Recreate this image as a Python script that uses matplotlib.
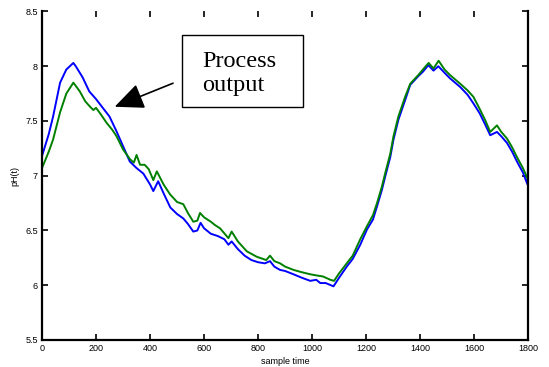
import matplotlib
matplotlib.use("Agg")
import matplotlib.pyplot as plt
from matplotlib.patches import Rectangle

# sample times and pH readings (blue curve)
t_blue = [0, 25, 41, 67, 90, 116, 125, 150, 175, 200, 225, 250, 275, 300, 325, 350,
          375, 400, 412, 430, 450, 475, 500, 523, 540, 560, 575, 587, 600, 625, 650,
          675, 690, 702, 725, 750, 775, 800, 825, 844, 860, 881, 900, 931, 960, 993,
          1015, 1030, 1050, 1079, 1100, 1128, 1150, 1178, 1203, 1225, 1240, 1258, 1270,
          1289, 1301, 1319, 1344, 1363, 1393, 1410, 1430, 1449, 1467, 1490, 1510, 1548,
          1575, 1597, 1620, 1640, 1659, 1684, 1700, 1721, 1740, 1758, 1780, 1797, 1800]
ph_blue = [7.18, 7.38, 7.54, 7.85, 7.97, 8.03, 8.00, 7.90, 7.77, 7.70, 7.62, 7.54, 7.41,
           7.27, 7.13, 7.07, 7.02, 6.92, 6.86, 6.95, 6.84, 6.71, 6.65, 6.61, 6.56, 6.49,
           6.50, 6.57, 6.52, 6.47, 6.45, 6.42, 6.37, 6.40, 6.33, 6.27, 6.23, 6.21, 6.20,
           6.22, 6.17, 6.14, 6.13, 6.10, 6.07, 6.04, 6.05, 6.02, 6.02, 5.99, 6.07, 6.17,
           6.24, 6.37, 6.51, 6.60, 6.72, 6.87, 6.99, 7.17, 7.33, 7.51, 7.69, 7.83, 7.91,
           7.95, 8.01, 7.96, 8.00, 7.94, 7.89, 7.81, 7.74, 7.66, 7.57, 7.47, 7.37, 7.40,
           7.36, 7.30, 7.22, 7.13, 7.03, 6.92, 7.16]

# sample times and pH readings (green curve)
t_green = [0, 25, 41, 67, 90, 116, 140, 160, 178, 190, 200, 215, 240, 260, 276, 300, 326,
           340, 350, 363, 380, 395, 412, 425, 450, 474, 500, 523, 540, 560, 575, 585, 600,
           625, 640, 659, 690, 702, 725, 758, 795, 830, 844, 860, 881, 900, 931, 960, 993,
           1015, 1040, 1067, 1081, 1100, 1128, 1150, 1178, 1203, 1225, 1240, 1258, 1270,
           1289, 1301, 1319, 1344, 1363, 1393, 1410, 1431, 1449, 1468, 1490, 1510, 1548,
           1575, 1597, 1620, 1640, 1659, 1684, 1700, 1721, 1740, 1758, 1780, 1800]
ph_green = [7.07, 7.22, 7.33, 7.58, 7.75, 7.85, 7.77, 7.68, 7.63, 7.60, 7.62, 7.57, 7.48,
            7.42, 7.36, 7.24, 7.15, 7.12, 7.19, 7.10, 7.10, 7.06, 6.96, 7.04, 6.92, 6.83,
            6.76, 6.74, 6.66, 6.58, 6.59, 6.66, 6.62, 6.58, 6.55, 6.52, 6.43, 6.49, 6.40,
            6.31, 6.26, 6.23, 6.27, 6.22, 6.20, 6.17, 6.14, 6.12, 6.10, 6.09, 6.08, 6.05,
            6.04, 6.11, 6.20, 6.27, 6.42, 6.54, 6.64, 6.75, 6.90, 7.02, 7.20, 7.36, 7.54,
            7.72, 7.84, 7.92, 7.97, 8.03, 7.98, 8.05, 7.97, 7.92, 7.84, 7.78, 7.72, 7.61,
            7.51, 7.40, 7.46, 7.40, 7.34, 7.26, 7.17, 7.07, 6.96]

x_ticks = [0, 200, 400, 600, 800, 1000, 1200, 1400, 1600, 1800]
y_ticks = [5.5, 6, 6.5, 7, 7.5, 8, 8.5]
y_tick_labels = ["5.5", "6", "6.5", "7", "7.5", "8", "8.5"]

fig = plt.figure(figsize=(5.49, 3.67), dpi=100)
ax = fig.add_axes([0.0765, 0.0736, 0.8858, 0.8951])

ax.plot(t_blue, ph_blue, color="#0000ff", lw=1.4)
ax.plot(t_green, ph_green, color="#008000", lw=1.4)

ax.set_xlim(0, 1800)
ax.set_ylim(5.5, 8.5)
ax.set_xticks(x_ticks)
ax.set_yticks(y_ticks)
ax.set_yticklabels(y_tick_labels)
ax.tick_params(direction="in", length=4, width=1.2, labelsize=6.5,
               top=True, right=True, pad=3)
for lab in ax.get_xticklabels() + ax.get_yticklabels():
    lab.set_family("Liberation Sans")
for s in ["left", "bottom", "right"]:
    ax.spines[s].set_linewidth(1.6)
ax.spines["top"].set_visible(False)

ax.set_xlabel("sample time", fontsize=6.5, family="Liberation Sans", labelpad=3)
ax.set_ylabel("pH(t)", fontsize=6.5, family="Liberation Sans", labelpad=4)

# annotation box
ax.add_patch(Rectangle((0.2875, 0.708), 0.2495, 0.220, transform=ax.transAxes,
                       fc="white", ec="black", lw=1.0, zorder=5))
ax.text(0.3287, 0.831, "Process", transform=ax.transAxes, fontsize=17.5,
        family="Liberation Serif", ha="left", va="baseline", zorder=6)
ax.text(0.3287, 0.7565, "output", transform=ax.transAxes, fontsize=17.5,
        family="Liberation Serif", ha="left", va="baseline", zorder=6)
ax.annotate("", xy=(269, 7.63), xytext=(485, 7.845),
            arrowprops=dict(arrowstyle="-|>,head_length=0.9,head_width=0.4",
                            mutation_scale=20, color="black", lw=1.2,
                            shrinkA=0, shrinkB=0))

fig.savefig("out.png", dpi=100)
